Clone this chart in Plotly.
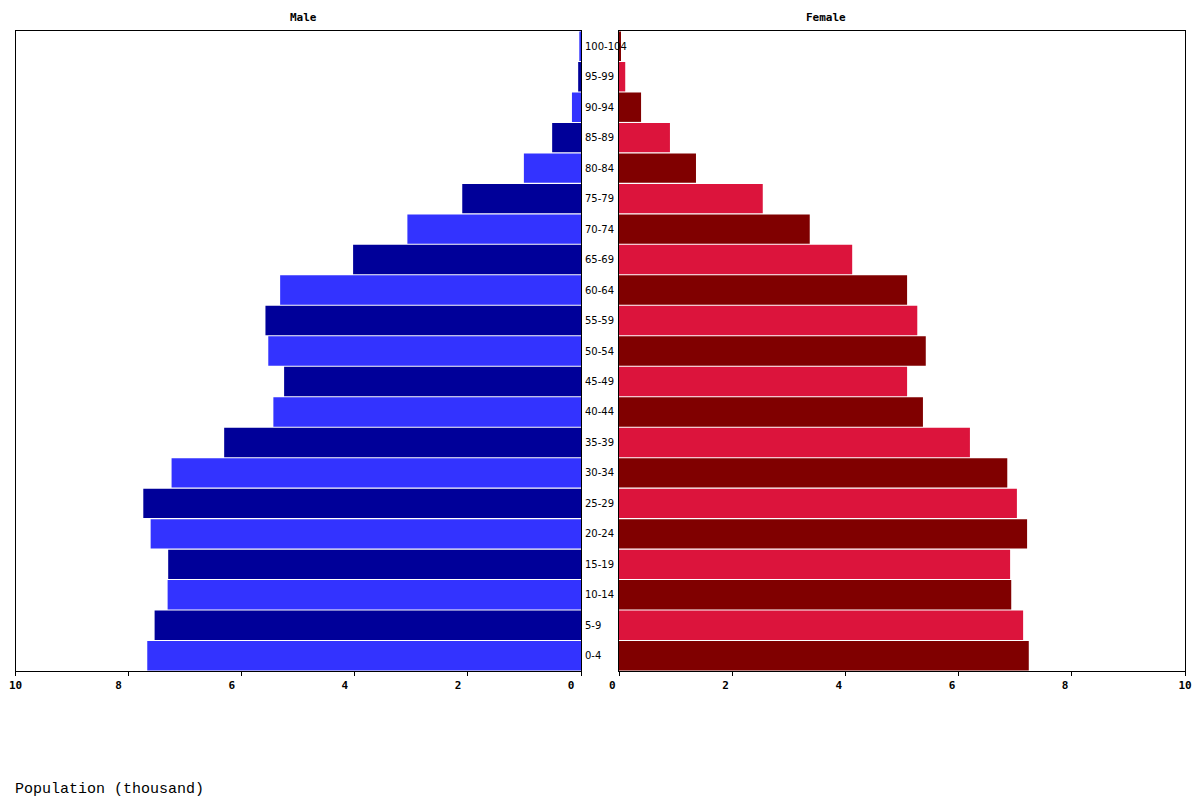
import plotly.graph_objects as go

W, H = 1200, 800
PAGE_OFFSET = 8  # body margin of the written page

age_groups = ["0-4", "5-9", "10-14", "15-19", "20-24", "25-29", "30-34", "35-39",
              "40-44", "45-49", "50-54", "55-59", "60-64", "65-69", "70-74", "75-79",
              "80-84", "85-89", "90-94", "95-99", "100-104"]

male = [7.67, 7.54, 7.31, 7.30, 7.61, 7.74, 7.24, 6.31, 5.44, 5.25, 5.53, 5.58,
        5.32, 4.03, 3.07, 2.10, 1.01, 0.51, 0.16, 0.05, 0.03]
female = [7.24, 7.14, 6.93, 6.91, 7.21, 7.03, 6.86, 6.20, 5.37, 5.09, 5.42, 5.27,
          5.09, 4.12, 3.37, 2.54, 1.36, 0.90, 0.39, 0.11, 0.03]

x_ticks = [0, 2, 4, 6, 8, 10]


def tick_text(pad):
    # single digits sit a little left of their tick in the original
    return [str(t) if t >= 10 else str(t) + '\u00a0' * pad for t in x_ticks]


male_colors = ['#3333FF' if i % 2 == 0 else '#000099' for i in range(len(age_groups))]
female_colors = ['#800000' if i % 2 == 0 else '#DC143C' for i in range(len(age_groups))]


def px_x(p):
    return (p - PAGE_OFFSET) / W


def px_y(p):
    return 1 - (p - PAGE_OFFSET + 1) / H


fig = go.Figure()

fig.add_trace(go.Bar(
    y=age_groups, x=male, orientation='h',
    marker=dict(color=male_colors, line=dict(width=0)),
    xaxis='x', yaxis='y', showlegend=False, name='Male'
))

fig.add_trace(go.Bar(
    y=age_groups, x=female, orientation='h',
    marker=dict(color=female_colors, line=dict(width=0)),
    xaxis='x2', yaxis='y2', showlegend=False, name='Female'
))

axis_common = dict(
    showline=True, mirror=True, linecolor='black', linewidth=1,
    showgrid=False, zeroline=False, automargin=False,
    ticks='outside', ticklen=4, tickcolor='black',
    tickvals=x_ticks,
    tickfont=dict(family='DejaVu Sans Mono', size=11, color='black', weight='bold'),
)

y_common = dict(
    showline=True, mirror=True, linecolor='black', linewidth=1,
    showgrid=False, zeroline=False, automargin=False,
    showticklabels=False, ticks='',
    categoryorder='array', categoryarray=age_groups,
    range=[-0.5, len(age_groups) - 0.5],
    domain=[px_y(670), px_y(30)],
)

annotations = []
for ag in age_groups:
    annotations.append(dict(
        text=ag, xref='paper', yref='y', x=px_x(583), y=ag,
        xanchor='left', yanchor='middle', showarrow=False,
        font=dict(family='DejaVu Sans', size=10, color='black')
    ))

annotations.append(dict(
    text='Male', xref='paper', yref='paper', x=px_x(303), y=px_y(17),
    xanchor='center', yanchor='middle', showarrow=False,
    font=dict(family='DejaVu Sans Mono', size=11, color='black', weight='bold')
))
annotations.append(dict(
    text='Female', xref='paper', yref='paper', x=px_x(826), y=px_y(17),
    xanchor='center', yanchor='middle', showarrow=False,
    font=dict(family='DejaVu Sans Mono', size=11, color='black', weight='bold')
))
annotations.append(dict(
    text='Population (thousand)', xref='paper', yref='paper', x=px_x(13), y=px_y(788),
    xanchor='left', yanchor='middle', showarrow=False,
    font=dict(family='Liberation Mono', size=15, color='black')
))

fig.update_layout(
    width=W, height=H,
    margin=dict(l=0, r=0, t=0, b=0),
    paper_bgcolor='white', plot_bgcolor='white',
    bargap=0.035,
    xaxis=dict(axis_common, domain=[px_x(15.5), px_x(581)], range=[10, 0], anchor='y',
               ticktext=tick_text(3)),
    xaxis2=dict(axis_common, domain=[px_x(619), px_x(1185)], range=[0, 10], anchor='y2',
                ticktext=tick_text(2)),
    yaxis=dict(y_common, anchor='x'),
    yaxis2=dict(y_common, anchor='x2'),
    annotations=annotations,
)

fig.write_html("out.html")
